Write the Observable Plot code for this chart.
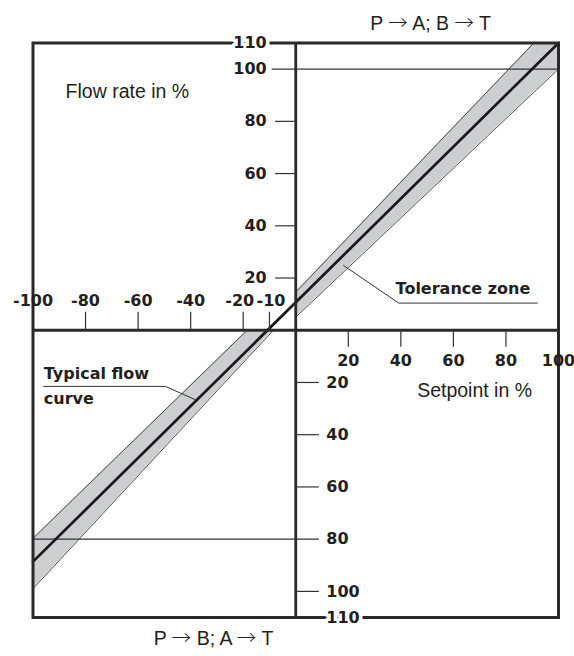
<!DOCTYPE html>
<html><head><meta charset="utf-8">
<script src="https://cdn.jsdelivr.net/npm/d3@7"></script>
<script src="https://cdn.jsdelivr.net/npm/@observablehq/plot@0.6"></script>
<style>body{margin:0;background:#fff} #chart svg{display:block}</style>
</head><body><div id="chart"></div>
<script>
// Typical flow curve (setpoint % -> flow rate %)
const flowX = [-100, 100];
const flowY = [-88.6, 110];
// Tolerance zone, quadrant I (P -> A; B -> T)
const bandIX = [0, 90.6, 100];
const bandILow = [5, 91.1, 100];
const bandIHigh = [14.6, 110, 110];
// Tolerance zone, quadrant III (P -> B; A -> T)
const bandIIIX = [-100, -18.5, -8.5];
const bandIIILow = [-99, -10.8, 0];
const bandIIIHigh = [-79.7, 0, 0];
// Axis tick values and labels
const xNegLabels = [-100, -80, -60, -40];
const xNegTicks = [-80, -60, -40, -20, -10];
const xPosLabels = [20, 40, 60, 80, 100];
const xPosTicks = [20, 40, 60, 80];
const yUpLabels = [20, 40, 60, 80, 100];
const yUpTicks = [20, 40, 60, 80];
const yDownLabels = [-20, -40, -60, -80, -100];
const yDownTicks = [-20, -40, -60, -100];
const yRefUp = [100];
const yRefDown = [-80];
const yLimit = 110;
// Annotation texts
const titleTop = "P \u2192 A; B \u2192 T";
const titleBottom = "P \u2192 B; A \u2192 T";
const yTitle = "Flow rate in %";
const xTitle = "Setpoint in %";
const tolLabel = "Tolerance zone";
const flowLabel1 = "Typical flow";
const flowLabel2 = "curve";
// leader lines (data coords)
const tolLeaderX = [18.2, 39.2, 92];
const tolLeaderY = [24.8, 10.4, 10.4];
const flowLeaderX = [-95.9, -49.6, -38.2];
const flowLeaderY = [-21.5, -21.5, -26.6];

const zip = (xs, ys) => xs.map((x, i) => ({x, y: ys[i]}));
const band = (xs, lo, hi) => xs.map((x, i) => ({x, lo: lo[i], hi: hi[i]}));
const bandI = band(bandIX, bandILow, bandIHigh);
const bandIII = band(bandIIIX, bandIIILow, bandIIIHigh);

const ink = "#231f20";
const numFont = {fontFamily: "DejaVu Sans", fontWeight: "bold", fontSize: 16, fill: ink};
const regFont = {fontFamily: "Liberation Sans", fontSize: 19.5, fill: ink};

const chart = Plot.plot({
  width: 574, height: 656,
  marginLeft: 32.5, marginRight: 16, marginTop: 42.5, marginBottom: 39,
  x: {domain: [-100, 100], axis: null},
  y: {domain: [-110, 110], axis: null},
  style: {background: "white", overflow: "visible"},
  marks: [
    Plot.areaY(bandI, {x: "x", y1: "lo", y2: "hi", fill: "#cdcecf"}),
    Plot.areaY(bandIII, {x: "x", y1: "lo", y2: "hi", fill: "#cdcecf"}),
    Plot.line(bandI, {x: "x", y: "lo", stroke: "#3c3c3c", strokeWidth: 0.9}),
    Plot.line(bandI, {x: "x", y: "hi", stroke: "#3c3c3c", strokeWidth: 0.9}),
    Plot.line(bandIII, {x: "x", y: "lo", stroke: "#3c3c3c", strokeWidth: 0.9}),
    Plot.line(bandIII, {x: "x", y: "hi", stroke: "#3c3c3c", strokeWidth: 0.9}),
    Plot.ruleY(yRefUp, {x1: -9, x2: 100, stroke: "#333", strokeWidth: 1.2}),
    Plot.ruleY(yRefDown, {x1: -100, x2: 9, stroke: "#333", strokeWidth: 1.2}),
    Plot.line(zip(flowX, flowY), {x: "x", y: "y", stroke: "#1a1718", strokeWidth: 2.7}),
    Plot.frame({stroke: "#2b2829", strokeWidth: 3}),
    Plot.ruleX([0], {stroke: "#2b2829", strokeWidth: 2.8}),
    Plot.ruleY([0], {stroke: "#2b2829", strokeWidth: 3}),
    // ticks
    Plot.ruleY(yUpTicks, {x1: -7.7, x2: 0, stroke: "#333", strokeWidth: 1.2}),
    Plot.ruleY(yDownTicks, {x1: 0, x2: 9, stroke: "#333", strokeWidth: 1.2}),
    Plot.ruleX(xNegTicks, {y1: 0, y2: 6.9, stroke: "#333", strokeWidth: 1.2}),
    Plot.ruleX(xPosTicks, {y1: 0, y2: -6.5, stroke: "#333", strokeWidth: 1.2}),
    // tick labels
    Plot.text(xNegLabels, {x: d => d, y: 0, text: d => String(d), dy: -29.5, ...numFont}),
    Plot.text([-20], {x: d => d, y: 0, text: d => String(d), dy: -29.5, dx: -3.5, ...numFont}),
    Plot.text([-10], {x: d => d, y: 0, text: d => String(d), dy: -29.5, dx: 1.5, ...numFont}),
    Plot.text(xPosLabels, {x: d => d, y: 0, text: d => String(d), dy: 31, ...numFont}),
    Plot.text(yUpLabels, {x: 0, y: d => d, text: d => String(d), dx: -29, textAnchor: "end", ...numFont}),
    Plot.text(yDownLabels, {x: 0, y: d => d, text: d => String(-d), dx: 30.5, textAnchor: "start", ...numFont}),
    Plot.text([yLimit], {x: 0, y: d => d, text: d => String(d), dx: -29, textAnchor: "end", stroke: "white", strokeWidth: 7, paintOrder: "stroke", ...numFont}),
    Plot.text([-yLimit], {x: 0, y: d => d, text: d => String(-d), dx: 30.5, textAnchor: "start", stroke: "white", strokeWidth: 7, paintOrder: "stroke", ...numFont}),
    // leaders
    Plot.line(zip(tolLeaderX, tolLeaderY), {x: "x", y: "y", stroke: "#333", strokeWidth: 1}),
    Plot.line(zip(flowLeaderX, flowLeaderY), {x: "x", y: "y", stroke: "#333", strokeWidth: 1}),
    // titles and annotations
    Plot.text([titleTop], {x: 51.3, y: 114.8, text: d => d, lineAnchor: "bottom", textAnchor: "middle", ...regFont}),
    Plot.text([titleBottom], {x: -31.3, y: -120.7, text: d => d, lineAnchor: "bottom", textAnchor: "middle", ...regFont}),
    Plot.text([yTitle], {x: -87.6, y: 88.8, text: d => d, lineAnchor: "bottom", textAnchor: "start", ...regFont}),
    Plot.text([xTitle], {x: 46.2, y: -25.6, text: d => d, lineAnchor: "bottom", textAnchor: "start", ...regFont}),
    Plot.text([tolLabel], {x: 38, y: 13.7, text: d => d, lineAnchor: "bottom", textAnchor: "start", ...numFont}),
    Plot.text([flowLabel1], {x: -95.9, y: -18.6, text: d => d, lineAnchor: "bottom", textAnchor: "start", ...numFont}),
    Plot.text([flowLabel2], {x: -95.9, y: -28.2, text: d => d, lineAnchor: "bottom", textAnchor: "start", ...numFont})
  ]
});
// render the arrows with a thin, full-width glyph
const NS = "http://www.w3.org/2000/svg";
chart.querySelectorAll("text").forEach(t => {
  if (t.children.length === 0 && t.textContent.includes("\u2192")) {
    const parts = t.textContent.split("\u2192");
    t.textContent = "";
    parts.forEach((p, i) => {
      if (i > 0) {
        const s = document.createElementNS(NS, "tspan");
        s.setAttribute("font-family", "Noto Sans CJK SC");
        s.setAttribute("font-weight", "300");
        s.textContent = "\u2192";
        t.appendChild(s);
      }
      t.appendChild(document.createTextNode(p));
    });
  }
});
document.getElementById("chart").appendChild(chart);
</script></body></html>
